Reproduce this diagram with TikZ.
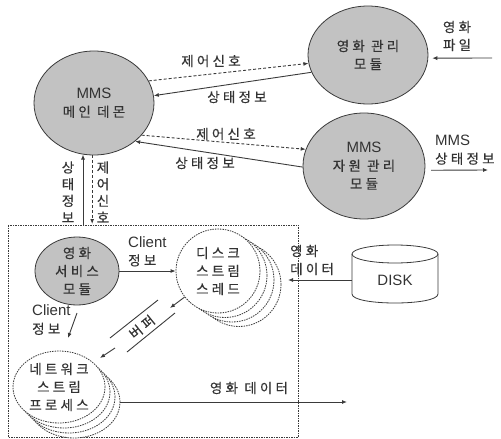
\documentclass[tikz,border=0pt]{standalone}
\usepackage{fontspec}
\setmainfont{Liberation Sans}
\newfontfamily\krs[LetterSpace=24,FakeBold=0.4]{Noto Sans CJK KR}
\newfontfamily\krn[FakeBold=0.4]{Noto Sans CJK KR}
\usetikzlibrary{arrows.meta,shapes.geometric}
\definecolor{txt}{HTML}{333333}
\definecolor{ln}{HTML}{3A3A3A}
\definecolor{fillg}{HTML}{C2C2C2}
\newcommand\ko[1]{{\krs\fontsize{13.5}{18}\selectfont #1}}
\begin{document}
\begin{tikzpicture}[x=1pt,y=-1pt,
  every node/.style={text=txt, font=\fontsize{15}{18}\selectfont, inner sep=0pt},
  proc/.style={ellipse, draw=ln, fill=fillg, line width=0.8pt, align=center},
  dproc/.style={ellipse, draw=ln, fill=white, dash pattern=on 1.5pt off 1pt, line width=0.8pt, align=center},
  arr/.style={draw=ln, line width=0.9pt, -{Latex[length=5pt,width=4pt]}},
  darr/.style={arr, dash pattern=on 3pt off 2pt},
  plain/.style={draw=ln, line width=0.9pt},
  lbl/.style={align=center},
  vlbl/.style={align=center, font=\krn\fontsize{13.5}{16.7}\selectfont},
]
\useasboundingbox (0,0) rectangle (501,439);

% dashed boundary
\draw[ln, dash pattern=on 1.5pt off 1pt, line width=0.8pt] (8,225) rectangle (298,437);

% main processes
\node[proc, minimum width=120, minimum height=104] (main) at (94,103) {MMS\\\ko{메인 데몬}};
\node[proc, minimum width=120, minimum height=98] (yg) at (368,55) {\ko{영화 관리}\\\ko{모듈}};
\node[proc, minimum width=122, minimum height=106] (res) at (364,166) {MMS\\\ko{자원 관리}\\\ko{모듈}};
\node[proc, minimum width=84, minimum height=64] (svc) at (77,271) {\ko{영화}\\\ko{서비스}\\\ko{모듈}};

% disk stream thread stack
\node[dproc, minimum width=84, minimum height=84] (ds3) at (239,284.5) {};
\node[dproc, minimum width=84, minimum height=84] (ds2) at (232,280) {};
\node[dproc, minimum width=84, minimum height=84] (ds1) at (225,275.5) {};
\node[dproc, minimum width=84, minimum height=84] (ds) at (218,271) {\ko{디스크}\\\ko{스트림}\\\ko{스레드}};

% network stream process stack
\node[dproc, minimum width=92, minimum height=72] (ns3) at (74,402) {};
\node[dproc, minimum width=92, minimum height=72] (ns2) at (69,397) {};
\node[dproc, minimum width=92, minimum height=72] (ns1) at (64,392) {};
\node[dproc, minimum width=92, minimum height=72] (ns) at (59,387) {\ko{네트워크}\\\ko{스트림}\\\ko{프로세스}};

% DISK
\draw[plain, line width=0.8pt] (395,254) ellipse [x radius=43, y radius=9];
\draw[plain, line width=0.8pt] (352,254) -- (352,294) .. controls (352,306) and (438,306) .. (438,294) -- (438,254);
\node[minimum width=86, minimum height=46] (disk) at (395,280) {DISK};

% top connectors
\draw[darr] (main.22) -- (yg.188);
\draw[arr] (yg.197) -- (main.7);
\draw[darr] (main.-34) -- (res.164);
\draw[arr] (res.181) -- (main.-43);
\coordinate (fin) at (492,58);
\draw[arr, shorten >=4pt] (fin) -- (yg.-3);
\coordinate (mout) at (488,170);
\draw[arr, shorten <=6pt] (res.-4) -- (mout);

% vertical connectors
\coordinate (v1) at (83,225);
\draw[arr] (v1) -- (v1 |- main.-102);
\coordinate (v2) at (92,224);
\draw[darr] (main.-92) -- (main.-92 |- v2);

% lower connectors
\draw[arr] (svc.0) -- (ds.180);
\coordinate (c1) at (77,313);
\coordinate (c2) at (68,338);
\draw[arr] (c1) -- (c2);
\coordinate (b1) at (170,308);
\draw[arr] (ds.218) -- (b1);
\coordinate (b2s) at (115,348);
\coordinate (b2e) at (100,358);
\draw[arr] (b2s) -- (b2e);
\coordinate (bl1a) at (110,338);
\coordinate (bl1b) at (158,300);
\coordinate (bl2a) at (127,352);
\coordinate (bl2b) at (175,313);
\draw[plain] (bl1a) -- (bl1b);
\draw[plain] (bl2a) -- (bl2b);
\coordinate (dt) at (288,280);
\draw[arr] (disk.west) -- (dt);
\coordinate (oe) at (347,402);
\draw[arr] (ns3.east) -- (oe);

% labels
\node (l1) at (211,61) {\ko{제어신호}};
\node (l2) at (237,97) {\ko{상태정보}};
\node (l3) at (226,134) {\ko{제어신호}};
\node (l4) at (205,163) {\ko{상태정보}};
\node[lbl] (l5) at (457,36) {\ko{영화}\\\ko{파일}};
\node[align=left, anchor=west] (l6) at (435,150) {MMS\\\ko{상태정보}};
\node[vlbl] (l7) at (68,192) {상\\태\\정\\보};
\node[vlbl] (l8) at (103,192) {제\\어\\신\\호};
\node[align=left, anchor=west] (l9) at (128,251.5) {Client\\\ko{정보}};
\node[align=left, anchor=west] (l10) at (32,320) {Client\\\ko{정보}};
\node[align=left, anchor=west] (l11) at (290,260) {\ko{영화}\\\ko{데이터}};
\node (l12) at (249,388) {\ko{영화 데이터}};
\node[rotate=39] (l13) at (142,327) {\ko{버퍼}};
\end{tikzpicture}
\end{document}
